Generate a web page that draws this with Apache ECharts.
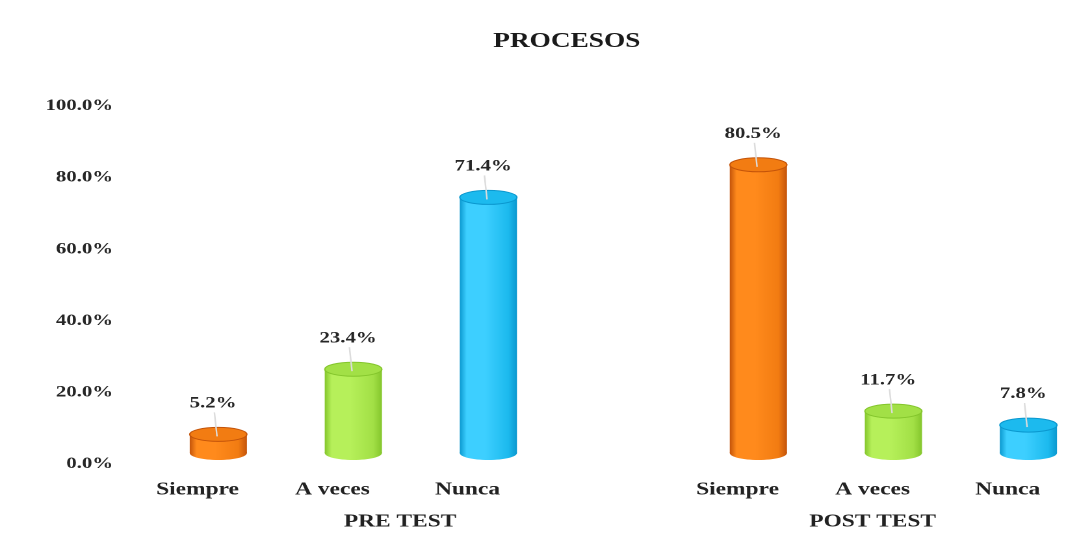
<!DOCTYPE html>
<html>
<head>
<meta charset="utf-8">
<title>PROCESOS</title>
<script src="https://cdn.jsdelivr.net/npm/echarts@6/dist/echarts.min.js"></script>
<style>
  html, body { margin: 0; padding: 0; background: #ffffff; overflow: hidden; }
  /* the chart is laid out narrow and widened, giving the broad lettering of the slide */
  #chart { width: 827px; height: 546px; transform: scaleX(1.3); transform-origin: 0 0; }
</style>
</head>
<body>
<div id="chart"></div>
<script>
// Answer categories, repeated for each test group (blank slot separates the groups)
const answers = ['Siempre', 'A veces', 'Nunca'];
const groups = ['PRE TEST', 'POST TEST'];
const preTest = [5.2, 23.4, 71.4];
const postTest = [80.5, 11.7, 7.8];
const yTicks = [0, 20, 40, 60, 80, 100];

const categories = answers.concat([''], answers);
const values = preTest.concat([null], postTest);

// cylinder palette: [edge, middle, top]
const palette = [
  ['#c4540a', '#ff8a1c', '#f27c12'],
  ['#84c62c', '#b6f05a', '#a2e046'],
  ['#0b98cf', '#3dcfff', '#1cbaee']
];

const FONT = '"Liberation Serif", "DejaVu Serif", serif';

function renderCylinder(params, api) {
  const idx = api.value(0);
  const v = api.value(1);
  const base = api.coord([idx, 0]);
  const top = api.coord([idx, v]);
  const dx = 16, dy = -11;          // depth shift of the 3D floor
  const rx = 22, ry = 7;
  const cx = base[0] + dx;
  const yTop = top[1] + dy;
  const yBot = base[1] + dy;
  const c = palette[idx > 3 ? idx - 4 : idx];
  const bodyFill = new echarts.graphic.LinearGradient(0, 0, 1, 0, [
    { offset: 0, color: c[0] },
    { offset: 0.12, color: c[1] },
    { offset: 0.45, color: c[1] },
    { offset: 0.85, color: c[2] },
    { offset: 1, color: c[0] }
  ]);
  const label = v.toFixed(1) + '%';
  return {
    type: 'group',
    children: [
      { type: 'rect', shape: { x: cx - rx, y: yTop, width: rx * 2, height: yBot - yTop },
        style: { fill: bodyFill } },
      { type: 'ellipse', shape: { cx: cx, cy: yBot, rx: rx, ry: ry },
        style: { fill: bodyFill } },
      { type: 'ellipse', shape: { cx: cx, cy: yTop, rx: rx, ry: ry },
        style: { fill: c[2], stroke: c[0], lineWidth: 1 } },
      { type: 'line', shape: { x1: cx - 3, y1: yTop - 22, x2: cx - 1, y2: yTop + 2 },
        style: { stroke: '#dcdcdc', lineWidth: 1.2 } },
      { type: 'text', x: cx - 4, y: yTop - 31,
        style: { text: label, fill: '#262626', font: 'bold 16px ' + FONT,
                 align: 'center', verticalAlign: 'middle' } }
    ]
  };
}

const chart = echarts.init(document.getElementById('chart'), null, { renderer: 'canvas', devicePixelRatio: 2 });
chart.setOption({
  backgroundColor: '#ffffff',
  animation: false,
  title: {
    text: 'PROCESOS',
    left: 431, top: 26, textAlign: 'center',
    textStyle: { fontFamily: FONT, fontWeight: 'bold', fontSize: 21, color: '#1a1a1a' }
  },
  grid: { left: 100, right: 0, top: 106, bottom: 82 },
  xAxis: [
    {
      type: 'category',
      data: categories,
      axisLine: { show: false },
      axisTick: { show: false },
      axisLabel: { margin: 17, fontFamily: FONT, fontWeight: 'bold', fontSize: 18, color: '#222' }
    },
    {
      // group captions beneath the answers
      type: 'value', min: 0, max: 7,
      position: 'bottom',
      axisLine: { show: false },
      axisTick: { show: false },
      splitLine: { show: false },
      axisLabel: {
        customValues: [2, 5.5],
        margin: 49,
        fontFamily: FONT, fontWeight: 'bold', fontSize: 18, color: '#222',
        formatter: function (val) { return val === 2 ? groups[0] : groups[1]; }
      }
    }
  ],
  yAxis: {
    type: 'value',
    min: yTicks[0], max: yTicks[yTicks.length - 1], interval: 20,
    axisLine: { show: false },
    axisTick: { show: false },
    splitLine: { show: false },
    axisLabel: {
      margin: 13, fontFamily: FONT, fontWeight: 'bold', fontSize: 16, color: '#262626',
      formatter: function (val) { return val.toFixed(1) + '%'; }
    }
  },
  series: [{
    type: 'custom',
    xAxisIndex: 0,
    renderItem: renderCylinder,
    clip: false,
    data: values.map(function (v, i) { return v === null ? null : [i, v]; }).filter(Boolean)
  }]
});
</script>
</body>
</html>
